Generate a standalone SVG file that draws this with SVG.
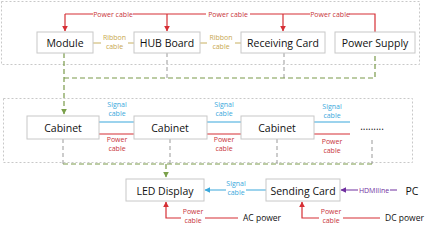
<svg xmlns="http://www.w3.org/2000/svg" width="426" height="231" viewBox="0 0 426 231">
<defs>
<style>
.box{fill:#fff;stroke:#c8c8c8;stroke-width:1}
.t{font-family:"Open Sans","Noto Sans",sans-serif;font-size:10.5px;fill:#111;text-anchor:middle}
.s{font-family:"Open Sans","Noto Sans",sans-serif;font-size:7px;text-anchor:middle}
.frame{fill:none;stroke:#c8c8c8;stroke-width:1;stroke-dasharray:2,2}
.red{stroke:#d62f35;stroke-width:1.2;fill:none}
.blue{stroke:#3aa8dc;stroke-width:1.2;fill:none}
.purple{stroke:#7030a0;stroke-width:1.2;fill:none}
.rib{stroke:#c8b060;stroke-width:1;fill:none}
.green{stroke:#7a9a4a;stroke-width:1.2;fill:none;stroke-dasharray:5,3}
.gray{stroke:#999;stroke-width:1;fill:none;stroke-dasharray:4,3}
.rt{fill:#c8343a}
.bt{fill:#3aa8dc}
.yt{fill:#c8a850}
.pt{fill:#7030a0}
.bg{fill:#fff}
</style>
<marker id="ar" viewBox="0 0 10 10" refX="9" refY="5" markerWidth="5" markerHeight="5" orient="auto"><path d="M0,0L10,5L0,10z" fill="#d62f35"/></marker>
<marker id="ab" viewBox="0 0 10 10" refX="9" refY="5" markerWidth="5" markerHeight="5" orient="auto"><path d="M0,0L10,5L0,10z" fill="#3aa8dc"/></marker>
<marker id="ap" viewBox="0 0 10 10" refX="9" refY="5" markerWidth="5" markerHeight="5" orient="auto"><path d="M0,0L10,5L0,10z" fill="#7030a0"/></marker>
<marker id="ag" viewBox="0 0 10 10" refX="9" refY="5" markerWidth="5" markerHeight="5" orient="auto"><path d="M0,0L10,5L0,10z" fill="#7aa04a"/></marker>
</defs>
<rect width="426" height="231" fill="#fff"/>
<rect class="frame" x="1.5" y="1.5" width="418" height="63"/>
<rect class="frame" x="3.5" y="98.5" width="409" height="64"/>
<g id="connectors">
<!-- top power -->
<path class="red" d="M65,14H375V32"/>
<path class="red" d="M65,14V31" marker-end="url(#ar)"/>
<path class="red" d="M167,14V31" marker-end="url(#ar)"/>
<path class="red" d="M283,14V31" marker-end="url(#ar)"/>
<rect class="bg" x="93" y="10" width="40" height="8"/>
<text class="s rt" x="113" y="16.5">Power cable</text>
<rect class="bg" x="206" y="10" width="44" height="8"/>
<text class="s rt" x="228" y="16.5">Power cable</text>
<rect class="bg" x="310" y="10" width="39" height="8"/>
<text class="s rt" x="330" y="16.5">Power cable</text>
<!-- ribbon -->
<path class="rib" d="M93,43H101M128,43H134M200,43H207M235,43H241"/>
<text class="s yt" x="114.5" y="40">Ribbon</text>
<text class="s yt" x="114.5" y="49">cable</text>
<text class="s yt" x="221" y="40">Ribbon</text>
<text class="s yt" x="221" y="49">cable</text>
<!-- top to middle -->
<path class="gray" d="M167,53V78M284,53V78"/>
<path class="green" d="M64,78H375V53"/>
<path class="green" d="M64,53V114" marker-end="url(#ag)"/>
<!-- middle cables -->
<path class="blue" d="M99,122H134M207,122H241M314,122H350"/>
<path class="red" d="M99,134H134M207,134H241M314,134H350"/>
<text class="s bt" x="117" y="107">Signal</text>
<text class="s bt" x="117" y="116">cable</text>
<text class="s rt" x="117" y="142">Power</text>
<text class="s rt" x="117" y="151">cable</text>
<text class="s bt" x="224" y="107">Signal</text>
<text class="s bt" x="224" y="116">cable</text>
<text class="s rt" x="224" y="142">Power</text>
<text class="s rt" x="224" y="151">cable</text>
<text class="s bt" x="332" y="109">Signal</text>
<text class="s bt" x="332" y="118">cable</text>
<text class="s rt" x="332" y="144">Power</text>
<text class="s rt" x="332" y="153">cable</text>
<text x="372" y="130" font-family="Open Sans,sans-serif" font-size="10" fill="#111" text-anchor="middle" letter-spacing="0">.........</text>
<!-- middle to bottom -->
<path class="gray" d="M63,139V164M170,139V164M277,139V164M372,140V164"/>
<path class="green" d="M63,164H372"/>
<path class="green" d="M166,164V177" marker-end="url(#ag)" stroke-dasharray="none"/>
<!-- bottom -->
<path class="blue" d="M266,190H205" marker-end="url(#ab)"/>
<rect class="bg" x="226" y="179" width="20" height="18"/>
<text class="s bt" x="236" y="186">Signal</text>
<text class="s bt" x="236" y="195">cable</text>
<path class="purple" d="M397,190H341" marker-end="url(#ap)"/>
<rect class="bg" x="358" y="186" width="32" height="8"/>
<text class="s pt" x="374" y="192.5">HDMIline</text>
<path class="red" d="M238,218H166V202" marker-end="url(#ar)"/>
<rect class="bg" x="181" y="207" width="24" height="18"/>
<text class="s rt" x="193" y="214">Power</text>
<text class="s rt" x="193" y="223">cable</text>
<path class="red" d="M380,218H302V202" marker-end="url(#ar)"/>
<rect class="bg" x="319" y="207" width="24" height="18"/>
<text class="s rt" x="331" y="214">Power</text>
<text class="s rt" x="331" y="223">cable</text>
</g>
<g id="module"><rect class="box" x="37" y="32" width="56" height="21"/><text class="t" x="65" y="46.5">Module</text></g>
<g id="hub"><rect class="box" x="134" y="32" width="66" height="21"/><text class="t" x="167" y="46.5">HUB Board</text></g>
<g id="receiving"><rect class="box" x="241" y="32" width="84" height="21"/><text class="t" x="283" y="46.5">Receiving Card</text></g>
<g id="power-supply"><rect class="box" x="335" y="32" width="80" height="21"/><text class="t" x="375" y="46.5">Power Supply</text></g>
<g id="cabinet1"><rect class="box" x="27" y="116" width="72" height="23"/><text class="t" x="63" y="131.5">Cabinet</text></g>
<g id="cabinet2"><rect class="box" x="134" y="116" width="73" height="23"/><text class="t" x="170" y="131.5">Cabinet</text></g>
<g id="cabinet3"><rect class="box" x="241" y="116" width="73" height="23"/><text class="t" x="277" y="131.5">Cabinet</text></g>
<g id="led"><rect class="box" x="126" y="179" width="78" height="22"/><text class="t" x="165" y="194.5">LED Display</text></g>
<g id="sending"><rect class="box" x="266" y="179" width="74" height="22"/><text class="t" x="303" y="194.5">Sending Card</text></g>
<g id="pc"><text class="t" x="412" y="194.5">PC</text></g>
<g id="ac"><text x="243" y="221" font-family="Open Sans,sans-serif" font-size="8.5" fill="#111">AC power</text></g>
<g id="dc"><text x="385" y="221" font-family="Open Sans,sans-serif" font-size="8.5" fill="#111">DC power</text></g>
</svg>
